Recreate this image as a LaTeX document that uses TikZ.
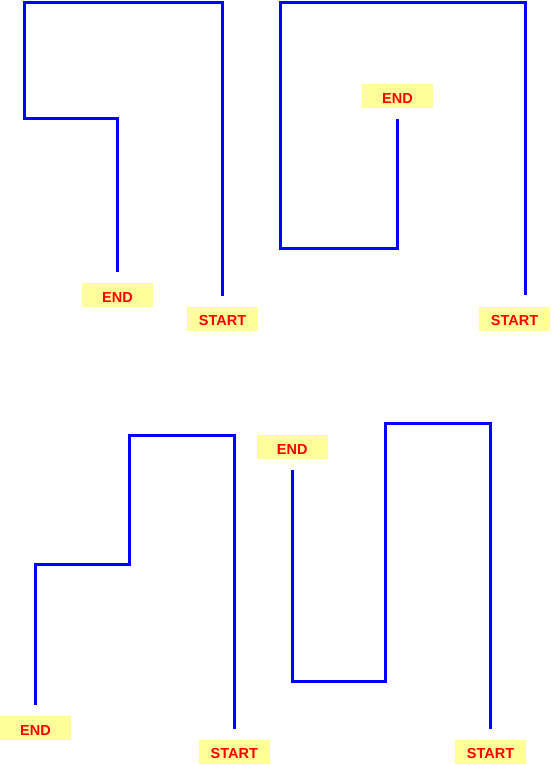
\documentclass[tikz,border=0pt]{standalone}
\usepackage{fontspec}
\setmainfont{Liberation Sans}
\definecolor{labelyellow}{RGB}{255,255,153}
\definecolor{routeblue}{RGB}{0,0,255}
\definecolor{labelred}{RGB}{255,0,0}
\begin{document}
\begin{tikzpicture}[x=1pt,y=-1pt,
  route/.style={draw=routeblue, line width=3pt},
  lbl/.style={fill=labelyellow, text=labelred, font=\bfseries\fontsize{14.5}{14.5}\selectfont,
    minimum width=71pt, minimum height=24pt, inner sep=0pt, text height=14pt, text depth=0pt}]
\useasboundingbox (0,0) rectangle (552,765);
% panel 1
\node[lbl] (end1) at (117.5,295) {END};
\node[lbl] (start1) at (222.5,318.5) {START};
\coordinate (s1) at (222,296);
\coordinate (e1) at (117,272);
\draw[route] (s1) -- (222,2.5) -- (24,2.5) -- (24,119) -- (117,119) -- (e1);
% panel 2
\node[lbl] (end2) at (397.5,96) {END};
\node[lbl] (start2) at (514.5,318.5) {START};
\coordinate (s2) at (525,295);
\coordinate (e2) at (397,119);
\draw[route] (s2) -- (525,2.5) -- (280,2.5) -- (280,248) -- (397,248) -- (e2);
% panel 3
\node[lbl] (end3) at (35.5,728.3) {END};
\node[lbl] (start3) at (234.3,751.7) {START};
\coordinate (s3) at (234,729);
\coordinate (e3) at (35,705);
\draw[route] (s3) -- (234,435) -- (129,435) -- (129,564) -- (35,564) -- (e3);
% panel 4
\node[lbl] (end4) at (292.3,447.3) {END};
\node[lbl] (start4) at (490.5,751.7) {START};
\coordinate (s4) at (490,729);
\coordinate (e4) at (292,470);
\draw[route] (s4) -- (490,423) -- (385,423) -- (385,681) -- (292,681) -- (e4);
\end{tikzpicture}
\end{document}
